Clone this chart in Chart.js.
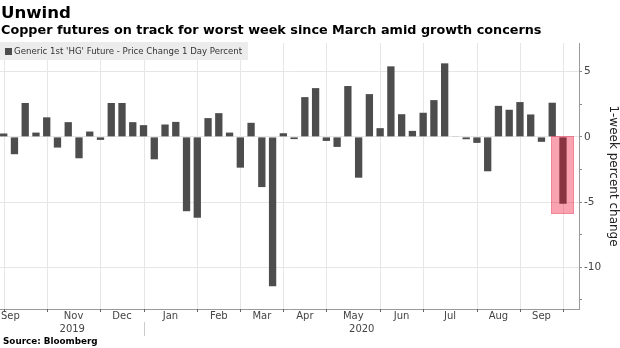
<!DOCTYPE html>
<html>
<head>
<meta charset="utf-8">
<script src="https://cdn.jsdelivr.net/npm/chart.js@4.4.1/dist/chart.umd.min.js"></script>
<style>
  html, body { margin: 0; padding: 0; background: #fff; }
  body { width: 620px; height: 348px; position: relative; overflow: hidden; font-family: "DejaVu Sans", sans-serif; }
  #chart { position: absolute; left: 0; top: 0; }
  .title { position: absolute; left: 1px; top: 4px; font-size: 16.6px; line-height: 17px; font-weight: bold; color: #000; }
  .subtitle { position: absolute; left: 1px; top: 23px; font-size: 12.8px; line-height: 13px; font-weight: bold; color: #000; white-space: nowrap; }
  .legend { position: absolute; left: 0; top: 42px; width: 248px; height: 18px; background: #ececec; }
  .legend .box { position: absolute; left: 5px; top: 6px; width: 7px; height: 7px; background: #4d4d4d; }
  .legend .text { position: absolute; left: 14px; top: 4px; font-size: 8.6px; line-height: 10px; color: #333; white-space: nowrap; }
  .source { position: absolute; left: 3px; top: 336px; font-size: 8.8px; line-height: 10px; font-weight: bold; color: #000; }
</style>
</head>
<body>
<canvas id="chart" width="620" height="348"></canvas>
<div class="title">Unwind</div>
<div class="subtitle">Copper futures on track for worst week since March amid growth concerns</div>
<div class="legend"><div class="box"></div><div class="text">Generic 1st 'HG' Future - Price Change 1 Day Percent</div></div>
<div class="source">Source: Bloomberg</div>
<script>
// weekly closes (Fridays)
const weeks = [
  '2019-09-27', '2019-10-04', '2019-10-11', '2019-10-18', '2019-10-25',
  '2019-11-01', '2019-11-08', '2019-11-15', '2019-11-22', '2019-11-29',
  '2019-12-06', '2019-12-13', '2019-12-20', '2019-12-27',
  '2020-01-03', '2020-01-10', '2020-01-17', '2020-01-24', '2020-01-31',
  '2020-02-07', '2020-02-14', '2020-02-21', '2020-02-28',
  '2020-03-06', '2020-03-13', '2020-03-20', '2020-03-27',
  '2020-04-03', '2020-04-10', '2020-04-17', '2020-04-24',
  '2020-05-01', '2020-05-08', '2020-05-15', '2020-05-22', '2020-05-29',
  '2020-06-05', '2020-06-12', '2020-06-19', '2020-06-26',
  '2020-07-03', '2020-07-10', '2020-07-17', '2020-07-24', '2020-07-31',
  '2020-08-07', '2020-08-14', '2020-08-21', '2020-08-28',
  '2020-09-04', '2020-09-11', '2020-09-18', '2020-09-25'
];

// 1-week percent change
const pctChange = [
  0.26, -1.33, 2.6, 0.33, 1.5,
  -0.82, 1.13, -1.64, 0.41, -0.23,
  2.6, 2.6, 1.13, 0.9,
  -1.72, 0.95, 1.15, -5.7, -6.2,
  1.44, 1.82, 0.33, -2.36,
  1.08, -3.85, -11.46, 0.28,
  -0.17, 3.05, 3.74, -0.31,
  -0.77, 3.9, -3.13, 3.28, 0.67,
  5.41, 1.74, 0.46, 1.85,
  2.82, 5.64, 0.03, -0.18, -0.46,
  -2.64, 2.38, 2.08, 2.67,
  1.72, -0.38, 2.62, -5.13
];

const monthKeys = ['2019-09', '2019-11', '2019-12', '2020-01', '2020-02', '2020-03', '2020-04', '2020-05', '2020-06', '2020-07', '2020-08', '2020-09'];
const monthLabels = ['Sep', 'Nov', 'Dec', 'Jan', 'Feb', 'Mar', 'Apr', 'May', 'Jun', 'Jul', 'Aug', 'Sep'];
const yearLabels = ['2019', '2020'];
const yTicks = [-12.5, -10, -7.5, -5, -2.5, 0, 2.5, 5];
const yTitle = '1-week percent change';
const highlightWeek = '2020-09-25';

Chart.defaults.font.family = '"DejaVu Sans", sans-serif';

// last week index of every month in the data
function monthEnds() {
  const ends = [];
  weeks.forEach((d, i) => {
    const key = d.slice(0, 7);
    if (i === weeks.length - 1 || weeks[i + 1].slice(0, 7) !== key) ends.push({ key, end: i });
  });
  return ends;
}

const axisPlugin = {
  id: 'bbgAxis',
  beforeDatasetsDraw(chart) {
    const { ctx, chartArea: a, scales: { x } } = chart;
    ctx.save();
    ctx.strokeStyle = '#e6e6e6';
    ctx.lineWidth = 1;
    monthEnds().forEach(m => {
      const px = Math.round(x.getPixelForValue(m.end)) + 0.5;
      ctx.beginPath();
      ctx.moveTo(px, a.top);
      ctx.lineTo(px, a.bottom);
      ctx.stroke();
    });
    ctx.restore();
  },
  afterDatasetsDraw(chart) {
    const { ctx, scales: { x, y } } = chart;
    const i = weeks.indexOf(highlightWeek);
    const x0 = Math.round(x.getPixelForValue(i - 1.07)), x1 = Math.round(x.getPixelForValue(i + 1.07));
    const y0 = Math.round(y.getPixelForValue(0.08)), y1 = Math.round(y.getPixelForValue(-5.95));
    ctx.save();
    ctx.fillStyle = 'rgba(239, 14, 51, 0.38)';
    ctx.fillRect(x0, y0, x1 - x0, y1 - y0);
    ctx.strokeStyle = 'rgba(225, 60, 90, 0.6)';
    ctx.setLineDash([1, 1]);
    ctx.strokeRect(x0 + 0.5, y0 + 0.5, x1 - x0 - 1, y1 - y0 - 1);
    ctx.restore();
  },
  afterDraw(chart) {
    const { ctx, chartArea: a, scales: { x } } = chart;
    const ends = monthEnds();
    ctx.save();
    // bottom axis
    ctx.strokeStyle = '#999';
    ctx.lineWidth = 1;
    ctx.beginPath();
    ctx.moveTo(a.left, a.bottom + 0.5);
    ctx.lineTo(a.right, a.bottom + 0.5);
    ctx.stroke();
    ctx.strokeStyle = '#666';
    ends.forEach(m => {
      const px = Math.round(x.getPixelForValue(m.end)) + 0.5;
      ctx.beginPath();
      ctx.moveTo(px, a.bottom);
      ctx.lineTo(px, a.bottom + 3);
      ctx.stroke();
    });

    // month labels
    ctx.fillStyle = '#444';
    ctx.font = '10px "DejaVu Sans"';
    ctx.textBaseline = 'middle';
    ctx.textAlign = 'center';
    monthKeys.forEach((key, k) => {
      const j = ends.findIndex(m => m.key === key);
      if (j < 0) return;
      const prev = j > 0 ? ends[j - 1].end : ends[j].end - 4;
      let cx = x.getPixelForValue((prev + ends[j].end) / 2);
      const w = ctx.measureText(monthLabels[k]).width;
      cx = Math.max(cx, a.left + 1 + w / 2);
      ctx.fillText(monthLabels[k], cx, a.bottom + 7);
    });

    // years, split at the last week of each year
    const yearEnds = yearLabels.map(yr => weeks.map(d => d.slice(0, 4)).lastIndexOf(yr));
    let left = a.left;
    yearLabels.forEach((yr, k) => {
      const isLast = k === yearLabels.length - 1;
      const sep = isLast ? a.right : Math.round(x.getPixelForValue(yearEnds[k])) + 0.5;
      ctx.fillText(yr, (left + sep) / 2, a.bottom + 20);
      if (!isLast) {
        ctx.strokeStyle = '#ccc';
        ctx.beginPath();
        ctx.moveTo(sep, a.bottom + 13);
        ctx.lineTo(sep, a.bottom + 27);
        ctx.stroke();
      }
      left = sep;
    });
    ctx.restore();
  }
};

const ctx = document.getElementById('chart').getContext('2d');
new Chart(ctx, {
  type: 'bar',
  data: {
    datasets: [{
      data: pctChange.map((v, i) => ({ x: i, y: v })),
      backgroundColor: '#4d4d4d',
      barPercentage: 0.68,
      categoryPercentage: 1
    }]
  },
  options: {
    responsive: false,
    animation: false,
    devicePixelRatio: 1,
    layout: { padding: { top: 43, bottom: 39, left: 0, right: 0 } },
    plugins: { legend: { display: false }, tooltip: { enabled: false } },
    scales: {
      x: { type: 'linear', min: -0.344, max: 53.49, offset: false, display: false },
      y: {
        position: 'right',
        min: -13.2,
        max: 7.2,
        afterBuildTicks: s => { s.ticks = yTicks.map(value => ({ value })); },
        afterFit: s => { s.width = 41; },
        ticks: {
          color: '#444',
          font: { size: 10.5 },
          padding: 2,
          callback: v => (v % 5 === 0 ? String(v) : '')
        },
        grid: {
          color: c => (c.tick && c.tick.value % 5 === 0 ? '#e6e6e6' : 'rgba(0,0,0,0)'),
          tickColor: '#888',
          tickLength: 3
        },
        border: { display: true, color: '#999' },
        title: {
          display: true,
          text: yTitle,
          color: '#222',
          font: { size: 12 },
          padding: { top: 0, bottom: 0 }
        }
      }
    }
  },
  plugins: [axisPlugin]
});
</script>
</body>
</html>
